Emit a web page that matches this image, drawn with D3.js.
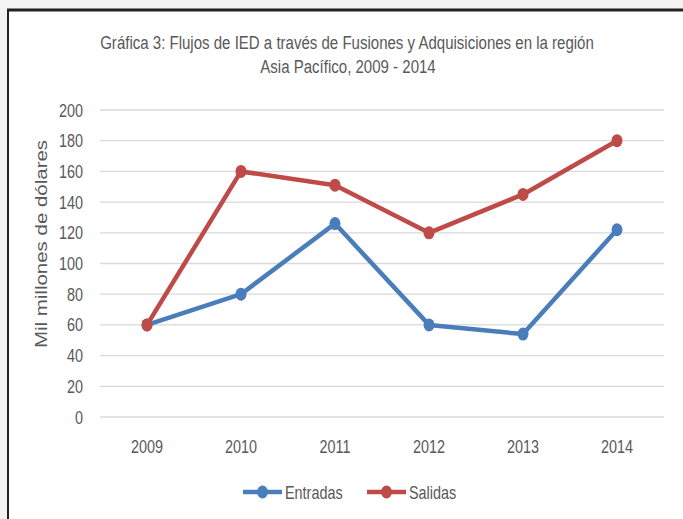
<!DOCTYPE html>
<html>
<head>
<meta charset="utf-8">
<script src="https://cdn.jsdelivr.net/npm/d3@7"></script>
<style>
  body { margin: 0; background: #f3f3f3; }
  svg text { font-family: "Liberation Sans", Arial, sans-serif; fill: #595959; }
</style>
</head>
<body>
<div class="chart"></div>
<script>
const years = ['2009', '2010', '2011', '2012', '2013', '2014'];
const entradas = [60, 80, 126, 60, 54, 122];
const salidas = [60, 160, 151, 120, 145, 180];
const yTicks = [0, 20, 40, 60, 80, 100, 120, 140, 160, 180, 200];

const width = 683;
const height = 519;
const narrow = 0.8; // squeeze text horizontally, the picture is stretched vertically

const svg = d3
  .select('.chart')
  .append('svg')
  .attr('width', width)
  .attr('height', height);

// chart area with dark top/left border
svg.append('rect')
  .attr('x', 8).attr('y', 10)
  .attr('width', 700).attr('height', 520)
  .attr('fill', 'white');
svg.append('line')
  .attr('x1', 7).attr('x2', width).attr('y1', 10).attr('y2', 10)
  .attr('stroke', '#222').attr('stroke-width', 3);
svg.append('line')
  .attr('x1', 8).attr('x2', 8).attr('y1', 9).attr('y2', height)
  .attr('stroke', '#222').attr('stroke-width', 2);

const x = d3.scaleBand().domain(years).range([100, 664]);
const y = d3.scaleLinear().domain([0, 200]).range([417, 110]);

// gridlines
svg.selectAll('.grid')
  .data(yTicks)
  .enter()
  .append('line')
  .attr('x1', 100).attr('x2', 664)
  .attr('y1', (d) => y(d)).attr('y2', (d) => y(d))
  .attr('stroke', '#d9d9d9').attr('stroke-width', 1.3);

// y labels
svg.selectAll('.ylab')
  .data(yTicks)
  .enter()
  .append('text')
  .attr('transform', (d) => `translate(83,${y(d) + 6.5}) scale(${narrow},1)`)
  .attr('text-anchor', 'end')
  .attr('font-size', 18)
  .text((d) => d);

// x labels
svg.selectAll('.xlab')
  .data(years)
  .enter()
  .append('text')
  .attr('transform', (d) => `translate(${x(d) + x.bandwidth() / 2},453) scale(${narrow},1)`)
  .attr('text-anchor', 'middle')
  .attr('font-size', 18)
  .text((d) => d);

// axis title
svg.append('text')
  .attr('transform', 'translate(47,244) rotate(-90) scale(1.28,1)')
  .attr('text-anchor', 'middle')
  .attr('font-size', 16)
  .text('Mil millones de dólares');

// title
svg.append('text')
  .attr('transform', `translate(347,49) scale(0.835,1)`)
  .attr('text-anchor', 'middle')
  .attr('font-size', 18)
  .text('Gráfica 3: Flujos de IED a través de Fusiones y Adquisiciones en la región');
svg.append('text')
  .attr('transform', `translate(348,72.5) scale(0.835,1)`)
  .attr('text-anchor', 'middle')
  .attr('font-size', 18)
  .text('Asia Pacífico, 2009 - 2014');

const series = [
  { name: 'Entradas', values: entradas, color: '#4a7ebb' },
  { name: 'Salidas', values: salidas, color: '#be4b48' }
];

const line = d3.line()
  .x((d, i) => x(years[i]) + x.bandwidth() / 2)
  .y((d) => y(d));

series.forEach((s) => {
  svg.append('path')
    .attr('d', line(s.values))
    .attr('fill', 'none')
    .attr('stroke', s.color)
    .attr('stroke-width', 4.5)
    .attr('stroke-linejoin', 'round');
  svg.selectAll('.pt-' + s.name)
    .data(s.values)
    .enter()
    .append('ellipse')
    .attr('cx', (d, i) => x(years[i]) + x.bandwidth() / 2)
    .attr('cy', (d) => y(d))
    .attr('rx', 5.5)
    .attr('ry', 6.5)
    .attr('fill', s.color);
});

// legend
const legendX = [243, 367];
series.forEach((s, i) => {
  const lx = legendX[i];
  svg.append('line')
    .attr('x1', lx).attr('x2', lx + 39)
    .attr('y1', 492).attr('y2', 492)
    .attr('stroke', s.color).attr('stroke-width', 4.5);
  svg.append('ellipse')
    .attr('cx', lx + 19.5).attr('cy', 492)
    .attr('rx', 5.5).attr('ry', 6.5)
    .attr('fill', s.color);
  svg.append('text')
    .attr('transform', `translate(${lx + 42},499) scale(${narrow},1)`)
    .attr('font-size', 18)
    .text(s.name);
});
</script>
</body>
</html>
